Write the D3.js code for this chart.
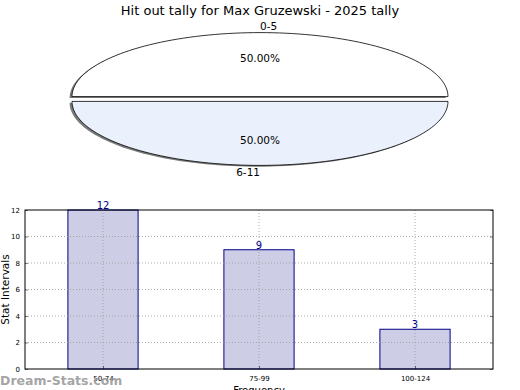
<!DOCTYPE html>
<html>
<head>
<meta charset="utf-8">
<script src="https://cdn.jsdelivr.net/npm/d3@7"></script>
<style>
  body { margin: 0; background: #fff; }
  svg { font-family: "DejaVu Sans", sans-serif; }
</style>
</head>
<body>
<div id="chart"></div>
<script>
// pie data
const pieLabels = ['0-5', '6-11'];
const pieValues = [1, 1];
const pieColors = ['#ffffff', '#eaf0fc'];

// bar data
const barCats = ['50-74', '75-99', '100-124'];
const barValues = [12, 9, 3];
const yTicks = [0, 2, 4, 6, 8, 10, 12];

const width = 520, height = 390;
const svg = d3.select('#chart').append('svg')
    .attr('width', width)
    .attr('height', height);

svg.append('text')
    .attr('x', 260).attr('y', 15)
    .attr('text-anchor', 'middle')
    .attr('font-size', 13)
    .text('Hit out tally for Max Gruzewski - 2025 tally');

// ---- pie (squashed ellipse) ----
const cx = 260, cy = 99, rx = 188, ry = 64, explode = 2.4;
const total = d3.sum(pieValues);
let start = 0;
const slices = pieValues.map((v, i) => {
    const a0 = start, a1 = start + v / total * 2 * Math.PI;
    start = a1;
    const mid = (a0 + a1) / 2;
    return {i, a0, a1, mid,
        ox: Math.cos(mid) * explode, oy: -Math.sin(mid) * explode};
});

// matplotlib angles: counterclockwise from east
function slicePath(s, sx, sy) {
    const pts = [];
    const n = 90;
    const px = cx + s.ox + sx, py = cy + s.oy + sy;
    pts.push([px, py]);
    for (let k = 0; k <= n; k++) {
        const a = s.a0 + (s.a1 - s.a0) * k / n;
        pts.push([px + rx * Math.cos(a), py - ry * Math.sin(a)]);
    }
    return d3.line()(pts) + 'Z';
}

const pie = svg.append('g');
// shadows
pie.selectAll('path.shadow')
    .data(slices)
    .join('path')
    .classed('shadow', true)
    .attr('d', d => slicePath(d, -2.4, 1.3))
    .attr('fill', '#7a7a7a')
    .attr('stroke', 'none');
pie.selectAll('path.slice')
    .data(slices)
    .join('path')
    .classed('slice', true)
    .attr('d', d => slicePath(d, 0, 0))
    .attr('fill', d => pieColors[d.i])
    .attr('stroke', '#000')
    .attr('stroke-width', 0.8);

pie.selectAll('text.lab')
    .data(slices)
    .join('text')
    .classed('lab', true)
    .attr('x', d => cx + d.ox + 1.1 * rx * Math.cos(d.mid))
    .attr('y', d => cy + d.oy - 1.1 * ry * Math.sin(d.mid) + 4)
    .attr('text-anchor', d => Math.cos(d.mid) >= 0 ? 'start' : 'end')
    .attr('font-size', 10.5)
    .text(d => pieLabels[d.i]);

pie.selectAll('text.pct')
    .data(slices)
    .join('text')
    .classed('pct', true)
    .attr('x', d => cx + d.ox + 0.6 * rx * Math.cos(d.mid))
    .attr('y', d => cy + d.oy - 0.6 * ry * Math.sin(d.mid) + 4)
    .attr('text-anchor', 'middle')
    .attr('font-size', 10.5)
    .text(d => (pieValues[d.i] / total * 100).toFixed(2) + '%');

// ---- bar chart ----
const margin = {left: 25, top: 210, right: 27, bottom: 21};
const pw = width - margin.left - margin.right;
const ph = height - margin.top - margin.bottom;
const chart = svg.append('g')
    .attr('transform', `translate(${margin.left},${margin.top})`);

const x = d3.scalePoint(barCats, [0, pw]).padding(0.5);
const y = d3.scaleLinear([0, 12], [ph, 0]);
const barW = x.step() * 0.45;

chart.selectAll('rect.bar')
    .data(barValues)
    .join('rect')
    .classed('bar', true)
    .attr('x', (d, i) => x(barCats[i]) - barW / 2)
    .attr('y', d => y(d))
    .attr('width', barW)
    .attr('height', d => ph - y(d))
    .attr('fill', '#cdcde6')
    .attr('stroke', '#00008b')
    .attr('stroke-width', 1);

// grid drawn over the bars
chart.append('g').selectAll('line')
    .data(yTicks.slice(1, -1))
    .join('line')
    .attr('x1', 0).attr('x2', pw)
    .attr('y1', d => y(d)).attr('y2', d => y(d))
    .attr('stroke', '#999').attr('stroke-opacity', 0.8).attr('stroke-dasharray', '1,2');
chart.append('g').selectAll('line')
    .data(barCats)
    .join('line')
    .attr('x1', d => x(d)).attr('x2', d => x(d))
    .attr('y1', 0).attr('y2', ph)
    .attr('stroke', '#999').attr('stroke-opacity', 0.8).attr('stroke-dasharray', '1,2');

chart.selectAll('text.val')
    .data(barValues)
    .join('text')
    .classed('val', true)
    .attr('x', (d, i) => x(barCats[i]))
    .attr('y', d => y(d) - 1)
    .attr('text-anchor', 'middle')
    .attr('font-size', 10)
    .attr('fill', '#00008b')
    .text(d => d);

// axes
const yAxis = chart.append('g')
    .call(d3.axisLeft(y).tickValues(yTicks).tickSize(-3).tickPadding(5));
const yAxisR = chart.append('g')
    .attr('transform', `translate(${pw},0)`)
    .call(d3.axisRight(y).tickValues(yTicks).tickSize(-3).tickFormat(''));
const xAxis = chart.append('g')
    .attr('transform', `translate(0,${ph})`)
    .call(d3.axisBottom(x).tickSize(-3).tickPadding(7));
[yAxis, yAxisR, xAxis].forEach(a => {
    a.select('.domain').remove();
    a.selectAll('.tick line').attr('stroke', '#000').attr('stroke-width', 0.5);
    a.selectAll('text').attr('font-size', 7).attr('font-family', '"DejaVu Sans", sans-serif');
});
chart.append('rect')
    .attr('width', pw).attr('height', ph)
    .attr('fill', 'none').attr('stroke', '#000').attr('stroke-width', 1);

svg.append('text')
    .attr('transform', `translate(9,${margin.top + ph / 2}) rotate(-90)`)
    .attr('text-anchor', 'middle')
    .attr('font-size', 10.5)
    .text('Stat Intervals');
svg.append('text')
    .attr('x', margin.left + pw / 2).attr('y', 394)
    .attr('text-anchor', 'middle')
    .attr('font-size', 10)
    .text('Frequency');

svg.append('text')
    .attr('x', 0).attr('y', 385)
    .attr('font-size', 12.5)
    .attr('font-weight', 'bold')
    .attr('fill', '#999')
    .attr('fill-opacity', 0.9)
    .text('Dream-Stats.com');
</script>
</body>
</html>
